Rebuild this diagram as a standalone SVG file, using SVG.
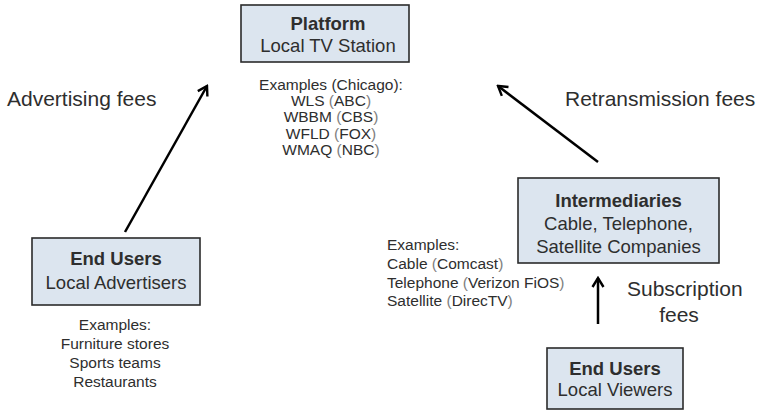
<svg xmlns="http://www.w3.org/2000/svg" width="758" height="411" viewBox="0 0 758 411">
  <defs>
    <marker id="head" viewBox="0 0 14 14" refX="12" refY="7" markerWidth="14" markerHeight="14" markerUnits="userSpaceOnUse" orient="auto">
      <path d="M3,1.5 L12,7 L3,12.5" fill="none" stroke="#000" stroke-width="2.4" stroke-linejoin="miter"/>
    </marker>
  </defs>
  <style>
    .box { fill: #dce5ef; stroke: #2b2b2b; stroke-width: 1.6; }
    text { font-family: "Liberation Sans", Arial, sans-serif; fill: #2e2e2e; }
    .title { font-size: 18.5px; font-weight: bold; }
    .sub { font-size: 18.5px; }
    .ex { font-size: 15.5px; }
    .fee { font-size: 21px; }
    .p { fill: #808080; }
    .link { stroke: #000; stroke-width: 2.5; fill: none; marker-end: url(#head); }
  </style>
  <rect width="758" height="411" fill="#fff"/>

  <g id="platform">
    <rect class="box" x="241" y="5" width="168" height="57"/>
    <text class="title" x="328" y="29.5" text-anchor="middle">Platform</text>
    <text class="sub" x="328" y="51.5" text-anchor="middle">Local TV Station</text>
    <g class="ex" text-anchor="middle">
      <text x="331" y="89.5">Examples (Chicago):</text>
      <text x="331" y="105.5">WLS <tspan class="p">(</tspan>ABC<tspan class="p">)</tspan></text>
      <text x="331" y="122">WBBM <tspan class="p">(</tspan>CBS<tspan class="p">)</tspan></text>
      <text x="331" y="138.5">WFLD <tspan class="p">(</tspan>FOX<tspan class="p">)</tspan></text>
      <text x="331" y="154.5">WMAQ <tspan class="p">(</tspan>NBC<tspan class="p">)</tspan></text>
    </g>
  </g>

  <g id="advertisers">
    <rect class="box" x="32" y="238" width="168" height="67"/>
    <text class="title" x="116" y="265" text-anchor="middle">End Users</text>
    <text class="sub" x="116" y="289" text-anchor="middle">Local Advertisers</text>
    <g class="ex" text-anchor="middle">
      <text x="115" y="329.5">Examples:</text>
      <text x="115" y="348.5">Furniture stores</text>
      <text x="115" y="367.5">Sports teams</text>
      <text x="115" y="386.5">Restaurants</text>
    </g>
  </g>

  <g id="intermediaries">
    <rect class="box" x="518" y="178" width="201" height="85"/>
    <text class="title" x="618.5" y="207" text-anchor="middle">Intermediaries</text>
    <text class="sub" x="618.5" y="230" text-anchor="middle">Cable, Telephone,</text>
    <text class="sub" x="618.5" y="253" text-anchor="middle">Satellite Companies</text>
    <g class="ex">
      <text x="387" y="250">Examples:</text>
      <text x="387" y="269">Cable <tspan class="p">(</tspan>Comcast<tspan class="p">)</tspan></text>
      <text x="387" y="288">Telephone <tspan class="p">(</tspan>Verizon FiOS<tspan class="p">)</tspan></text>
      <text x="387" y="306">Satellite <tspan class="p">(</tspan>DirecTV<tspan class="p">)</tspan></text>
    </g>
  </g>

  <g id="viewers">
    <rect class="box" x="547" y="348" width="136" height="61"/>
    <text class="title" x="615" y="375" text-anchor="middle">End Users</text>
    <text class="sub" x="615" y="396" text-anchor="middle">Local Viewers</text>
  </g>

  <g id="connectors">
    <line class="link" x1="125" y1="232" x2="207" y2="86"/>
    <line class="link" x1="598" y1="162" x2="498" y2="86"/>
    <line class="link" x1="598" y1="324" x2="598" y2="278"/>
    <text class="fee" x="7" y="105.5">Advertising fees</text>
    <text class="fee" x="565" y="105.5">Retransmission fees</text>
    <text class="fee" x="627" y="295.5">Subscription</text>
    <text class="fee" x="679" y="322" text-anchor="middle">fees</text>
  </g>
</svg>
